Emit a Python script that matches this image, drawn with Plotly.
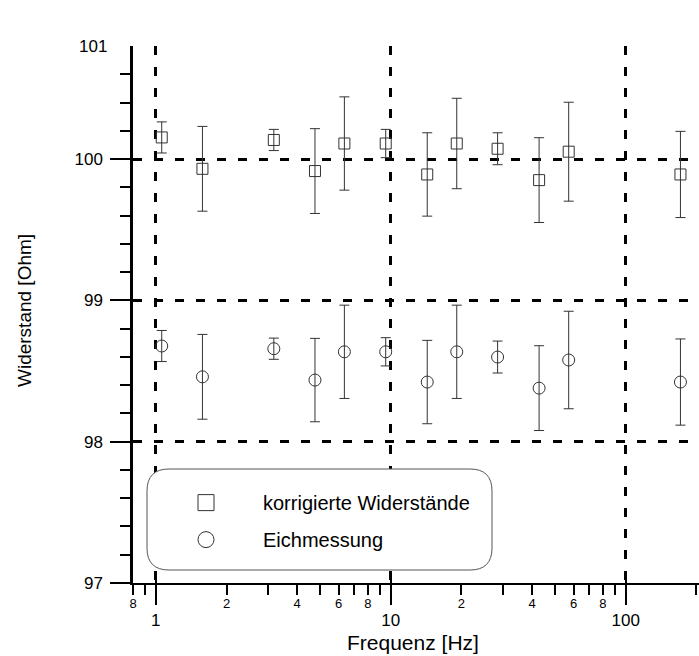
import math
import plotly.graph_objects as go

# ---- data ----
freq = [1.06, 1.58, 3.18, 4.76, 6.35, 9.52, 14.3, 19.1, 28.5, 42.8, 57.2, 171.0]
r_korr = [100.153, 99.931, 100.135, 99.915, 100.11, 100.11, 99.891, 100.11, 100.073, 99.851, 100.052, 99.891]
err_korr = [0.11, 0.30, 0.075, 0.30, 0.33, 0.10, 0.295, 0.32, 0.113, 0.30, 0.35, 0.305]
r_eich = [98.677, 98.459, 98.658, 98.436, 98.636, 98.636, 98.422, 98.636, 98.599, 98.379, 98.578, 98.422]
err_eich = [0.11, 0.30, 0.075, 0.295, 0.33, 0.10, 0.295, 0.33, 0.113, 0.30, 0.345, 0.305]

name_korr = "korrigierte Widerstände"
name_eich = "Eichmessung"

x_major = [1, 10, 100]
x_major_text = ["1", "10", "100"]
x_minor = [0.8, 0.9, 2, 3, 4, 5, 6, 7, 8, 9, 20, 30, 40, 50, 60, 70, 80, 90, 200]
x_minor_lab = [0.8, 2, 4, 6, 8, 20, 40, 60, 80, 200]
x_minor_lab_text = ["8", "2", "4", "6", "8", "2", "4", "6", "8", "2"]
y_major = [97, 98, 99, 100]
y_major_text = ["97", "98", "99", "100"]
y_minor = [round(97 + 0.2 * i, 1) for i in range(1, 19) if (i % 5) != 0]
y_top = 100.8
y_top_text = "101"
x_range = [math.log10(0.8), 2.312]
y_range = [97, y_top]

FONT = "Liberation Sans, Arial, sans-serif"
INK = "#333333"

fig = go.Figure()

fig.add_trace(go.Scatter(
    x=freq, y=r_korr, mode="markers", name=name_korr, showlegend=False,
    marker=dict(symbol="square-open", size=11, color=INK, line=dict(width=1, color=INK)),
    error_y=dict(type="data", array=err_korr, symmetric=True, thickness=1, width=5, color=INK),
))
fig.add_trace(go.Scatter(
    x=freq, y=r_eich, mode="markers", name=name_eich, showlegend=False,
    marker=dict(symbol="circle-open", size=12, color=INK, line=dict(width=1, color=INK)),
    error_y=dict(type="data", array=err_eich, symmetric=True, thickness=1, width=5, color=INK),
))
# legend entries (larger key symbols, like the reference)
fig.add_trace(go.Scatter(
    x=[None], y=[None], mode="markers", name=name_korr, legendgroup="a",
    marker=dict(symbol="square-open", size=23, color=INK, line=dict(width=1, color=INK)),
))
fig.add_trace(go.Scatter(
    x=[None], y=[None], mode="markers", name=name_eich, legendgroup="b",
    marker=dict(symbol="circle-open", size=23, color=INK, line=dict(width=1, color=INK)),
))
# helper traces so that overlay axes are drawn
fig.add_trace(go.Scatter(x=[None], y=[None], xaxis="x2", yaxis="y", showlegend=False, hoverinfo="skip"))
fig.add_trace(go.Scatter(x=[None], y=[None], xaxis="x3", yaxis="y", showlegend=False, hoverinfo="skip"))
fig.add_trace(go.Scatter(x=[None], y=[None], xaxis="x", yaxis="y2", showlegend=False, hoverinfo="skip"))

# rounded legend box
W, H = 566.0, 537.0
x0, x1 = 14 / W, 359 / W
y0, y1 = 13 / H, 114 / H
rx, ry = 22 / W, 22 / H
path = (f"M {x0+rx},{y0} L {x1-rx},{y0} Q {x1},{y0} {x1},{y0+ry} "
        f"L {x1},{y1-ry} Q {x1},{y1} {x1-rx},{y1} L {x0+rx},{y1} "
        f"Q {x0},{y1} {x0},{y1-ry} L {x0},{y0+ry} Q {x0},{y0} {x0+rx},{y0} Z")

grid = dict(showgrid=True, gridcolor="black", gridwidth=2.5, griddash="9px,12px")

fig.update_layout(
    width=699, height=656,
    margin=dict(l=133, r=0, t=46, b=73, pad=0),
    paper_bgcolor="white", plot_bgcolor="white",
    font=dict(family=FONT, color="black"),
    showlegend=True,
    legend=dict(x=16 / W, y=0.186, xanchor="left", yanchor="top",
                bgcolor="rgba(0,0,0,0)", borderwidth=0,
                font=dict(size=20, family=FONT, color="black"),
                itemwidth=104, tracegroupgap=8),
    xaxis=dict(type="log", range=x_range, tickmode="array", tickvals=x_major, ticktext=x_major_text,
               ticks="outside", ticklen=20, tickwidth=2, tickcolor="black",
               tickfont=dict(size=17), ticklabelstandoff=1,
               showline=True, linecolor="black", linewidth=1.5, zeroline=False,
               minor=dict(tickmode="array", tickvals=x_minor, ticks="outside", ticklen=10,
                          tickwidth=1.5, tickcolor="black", showgrid=False),
               **grid),
    xaxis2=dict(type="log", range=x_range, overlaying="x", anchor="y", side="bottom",
                tickmode="array", tickvals=x_minor_lab, ticktext=x_minor_lab_text,
                ticks="", tickfont=dict(size=13), ticklabelstandoff=11,
                showline=False, showgrid=False, zeroline=False),
    xaxis3=dict(type="log", range=x_range, overlaying="x", anchor="y", side="bottom",
                tickmode="array", tickvals=x_major, ticks="inside", ticklen=5, tickwidth=2,
                tickcolor="black", showticklabels=False,
                showline=False, showgrid=False, zeroline=False),
    yaxis=dict(range=y_range, tickmode="array", tickvals=y_major, ticktext=y_major_text,
               ticks="outside", ticklen=20, tickwidth=2, tickcolor="black",
               tickfont=dict(size=17), ticklabelstandoff=4,
               showline=True, linecolor="black", linewidth=2.5, zeroline=False,
               minor=dict(tickmode="array", tickvals=y_minor, ticks="outside", ticklen=10,
                          tickwidth=1.5, tickcolor="black", showgrid=False),
               **grid),
    yaxis2=dict(range=y_range, overlaying="y", anchor="x", side="left",
                tickmode="array", tickvals=y_major, ticks="inside", ticklen=7, tickwidth=2,
                tickcolor="black", showticklabels=False,
                showline=False, showgrid=False, zeroline=False),
    shapes=[dict(type="path", xref="paper", yref="paper", path=path,
                 fillcolor="white", line=dict(color="#555555", width=1), layer="above")],
    annotations=[
        dict(text=y_top_text, x=0, xref="paper", y=y_top, yref="y", xanchor="right",
             yanchor="middle", xshift=-24, showarrow=False, font=dict(size=17)),
        dict(text="Frequenz [Hz]", x=(413 - 133) / W, xref="paper", y=-(642 - 583) / H,
             yref="paper", xanchor="center", yanchor="middle", showarrow=False,
             font=dict(size=21)),
        dict(text="Widerstand [Ohm]", x=-(133 - 24) / W, xref="paper", y=(583 - 311) / H,
             yref="paper", xanchor="center", yanchor="middle", textangle=-90,
             showarrow=False, font=dict(size=19)),
    ],
)

fig.write_html("out.html")
